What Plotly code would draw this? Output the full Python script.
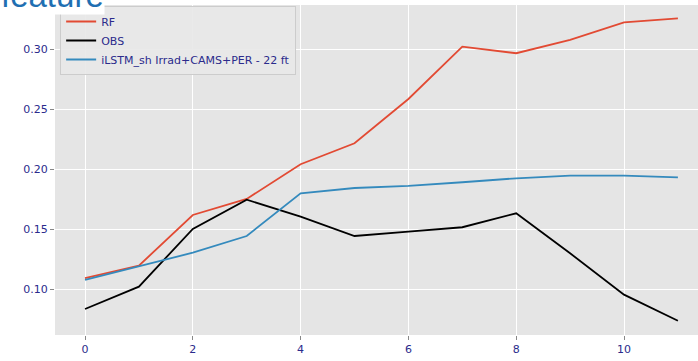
import plotly.graph_objects as go

# Forecast horizon steps
steps = list(range(12))

# Error values per horizon step
rf_vals = [0.1092, 0.1197, 0.1619, 0.1753, 0.2042, 0.2217, 0.2586, 0.3022, 0.2967, 0.3078, 0.3225, 0.3258]
obs_vals = [0.0836, 0.1022, 0.1503, 0.1747, 0.1605, 0.1444, 0.1480, 0.1517, 0.1633, 0.1300, 0.0955, 0.0738]
lstm_vals = [0.1078, 0.1194, 0.1305, 0.1444, 0.1800, 0.1844, 0.1861, 0.1892, 0.1925, 0.1947, 0.1947, 0.1933]

series_names = ["RF", "OBS", "iLSTM_sh Irrad+CAMS+PER - 22 ft"]
series_colors = ["#E24A33", "#000000", "#348ABD"]

x_ticks = [0, 2, 4, 6, 8, 10]
y_ticks = [0.10, 0.15, 0.20, 0.25, 0.30]
y_tick_text = ["0.10", "0.15", "0.20", "0.25", "0.30"]

label_color = "#2b2b8c"

fig = go.Figure()
for name, vals, color in zip(series_names, [rf_vals, obs_vals, lstm_vals], series_colors):
    fig.add_trace(go.Scatter(x=steps, y=vals, mode="lines", name=name,
                             line=dict(color=color, width=1.8)))

fig.update_layout(
    width=698, height=361,
    margin=dict(l=55, r=0, t=5, b=26),
    paper_bgcolor="white",
    plot_bgcolor="#E5E5E5",
    font=dict(family="DejaVu Sans", size=11, color=label_color),
    showlegend=True,
    legend=dict(x=0.008, y=0.997, xanchor="left", yanchor="top",
                bgcolor="rgba(232,232,232,0.9)", bordercolor="#cccccc", borderwidth=1,
                font=dict(size=11, color=label_color), tracegroupgap=0),
    xaxis=dict(range=[-0.557, 11.373], tickvals=x_ticks, ticks="outside", ticklen=4,
               tickcolor="#888888", tickwidth=1, showgrid=True, gridcolor="white",
               gridwidth=1, zeroline=False, showline=False,
               tickfont=dict(size=11, color=label_color)),
    yaxis=dict(range=[0.0619, 0.3369], tickvals=y_ticks, ticktext=y_tick_text,
               ticks="outside", ticklen=4, tickcolor="#888888", tickwidth=1,
               showgrid=True, gridcolor="white", gridwidth=1, zeroline=False,
               showline=False, tickfont=dict(size=11, color=label_color)),
)

# Heading text sitting over the upper-left corner
fig.add_annotation(text="feature", xref="paper", yref="paper",
                   x=-55 / 643, y=(335 - 15) / 330, xanchor="left", yanchor="bottom",
                   showarrow=False, bgcolor="white", borderpad=0,
                   font=dict(family="Liberation Sans", size=33, color="#1f6fb2"))

fig.write_html("out.html")
